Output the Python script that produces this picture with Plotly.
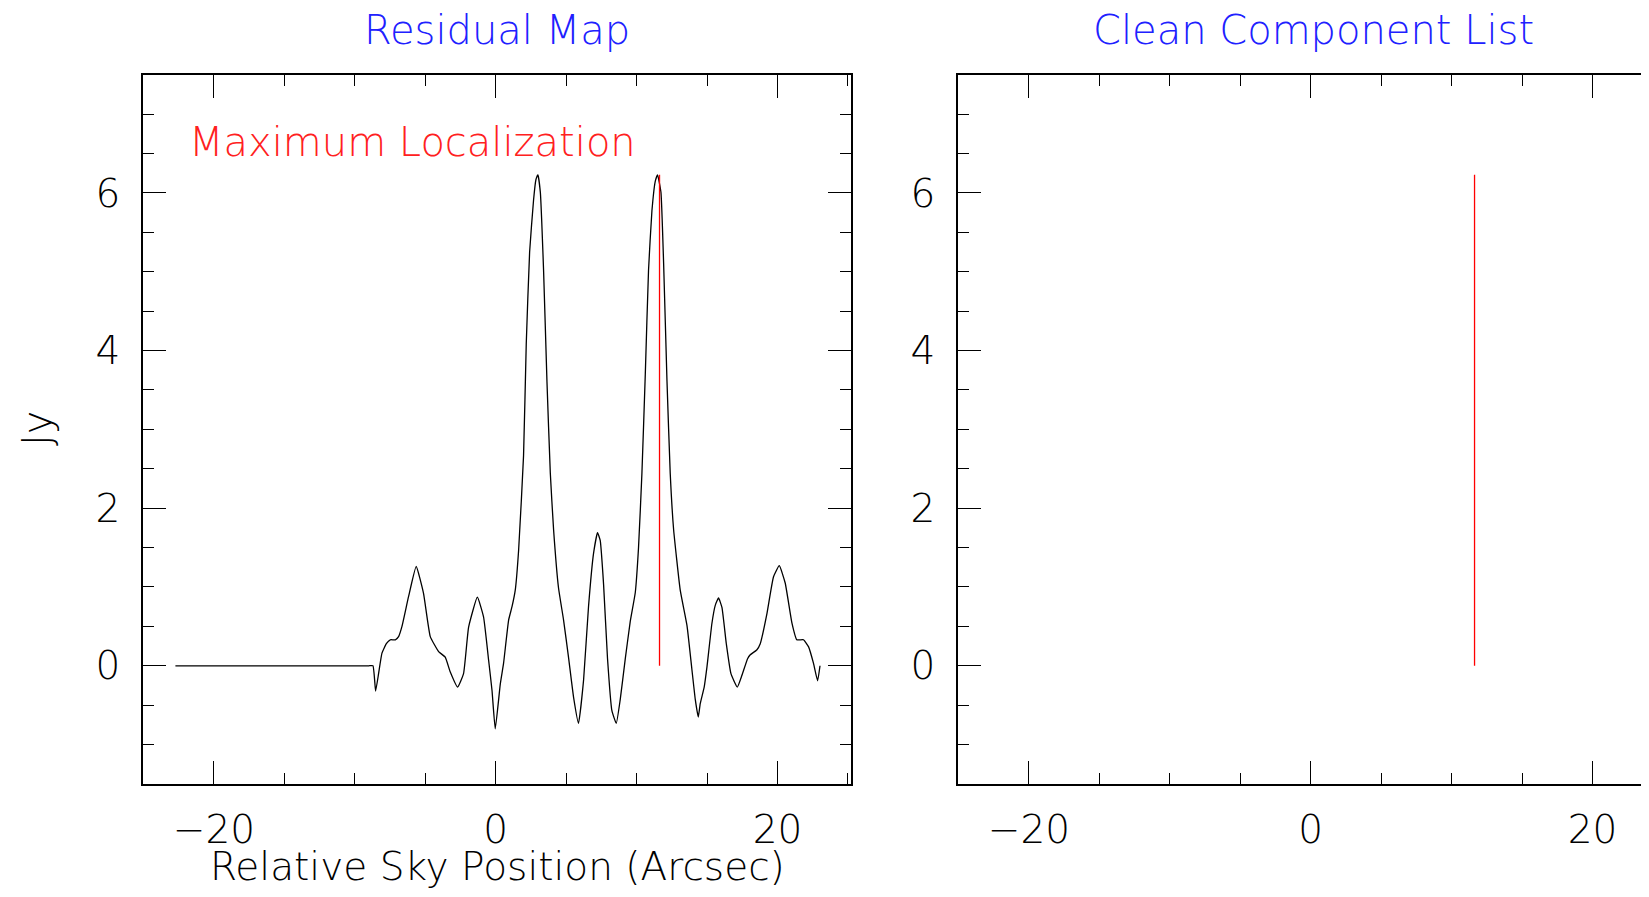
import plotly.graph_objects as go

# ---- data ----
pos_x = [-22.73, -20.0, -15.0, -10.0, -9.0, -8.71, -8.52, -8.31, -8.07, -7.76, -7.48, -7.12, -6.89,
         -6.65, -6.18, -5.64,
         -5.12, -4.64, -4.05, -3.58, -3.22, -2.70, -2.28, -1.92, -1.30, -0.86, -0.50, -0.26,
         -0.03, 0.33, 0.56, 0.92, 1.16, 1.39, 1.63, 1.98, 2.17, 2.41, 2.69, 2.86, 3.00, 3.17,
         3.40, 3.64, 3.88, 4.11, 4.46, 4.82, 5.17, 5.53, 5.88, 6.24, 6.59, 6.95, 7.23, 7.42,
         7.66, 7.94, 8.25, 8.56, 8.84, 9.20, 9.55, 9.91, 10.14, 10.38, 10.62, 10.85, 11.09,
         11.33, 11.49, 11.73, 11.92, 12.16, 12.39, 12.63, 13.10, 13.58, 13.93, 14.17, 14.38,
         14.52, 14.80, 15.00, 15.35, 15.59, 15.82, 16.06, 16.37, 16.70, 17.15, 17.48, 17.88,
         18.07, 18.53, 18.78, 19.25, 19.72, 20.13, 20.55, 21.03, 21.37, 21.85, 22.21, 22.56,
         22.85, 23.02]
residual_jy = [0.00, 0.00, 0.00, 0.00, 0.00, 0.00, -0.32, -0.10, 0.16, 0.28, 0.33, 0.33, 0.37,
               0.50, 0.88, 1.26,
               0.92, 0.37, 0.18, 0.11, -0.08, -0.27, -0.10, 0.49, 0.87, 0.62, 0.07, -0.31,
               -0.80, -0.23, 0.03, 0.58, 0.75, 0.96, 1.47, 2.67, 4.08, 5.25, 5.91, 6.17, 6.23, 6.01,
               5.02, 3.61, 2.44, 1.73, 0.99, 0.58, 0.11, -0.40, -0.73, -0.18, 0.75, 1.43, 1.69, 1.59,
               1.03, 0.09, -0.57, -0.73, -0.43, 0.09, 0.56, 0.93, 1.50, 2.44, 3.70, 5.02, 5.77,
               6.15, 6.23, 6.01, 5.11, 3.61, 2.44, 1.73, 0.96, 0.51, -0.05, -0.43, -0.65,
               -0.48, -0.27, -0.01, 0.54, 0.77, 0.86, 0.74, 0.28, -0.10, -0.27, -0.12, 0.09,
               0.14, 0.20, 0.28, 0.66, 1.13, 1.27, 1.05, 0.54, 0.33, 0.33, 0.24, 0.03,
               -0.19, 0.00]

comp_x = [11.63]
comp_flux = [6.23]

x_ticks = [-20, 0, 20]
y_ticks = [0, 2, 4, 6]

OFF = 8                      # default page margin of the html body
W, H = 1649 - 2 * OFF, 897 - 2 * OFF
FONT = "DejaVu Sans"

def px(v):
    return (v - OFF) / W

def py(v):
    return 1 - (v - OFF) / H

fig = go.Figure()

fig.add_trace(go.Scatter(x=pos_x, y=residual_jy, mode="lines",
                         line=dict(color="black", width=1.3, shape="spline", smoothing=0.4),
                         xaxis="x", yaxis="y", showlegend=False, hoverinfo="skip"))

for cx, cf in zip(comp_x, comp_flux):
    for xa, ya in (("x", "y"), ("x2", "y2")):
        fig.add_trace(go.Scatter(x=[cx, cx], y=[0, cf], mode="lines",
                                 line=dict(color="red", width=1.3),
                                 xaxis=xa, yaxis=ya, showlegend=False))

tickfont = dict(family=FONT, size=39, color="black", weight=200)

common_x = dict(ticks="inside", ticklen=23, tickwidth=1.3, tickcolor="black",
                showline=True, linecolor="black", linewidth=1.6,
                tickvals=x_ticks, showgrid=False, zeroline=False,
                minor=dict(dtick=5, tick0=0, ticks="inside", ticklen=11.5, tickwidth=1.3,
                           tickcolor="black", showgrid=False),
                tickfont=tickfont, ticklabelstandoff=10)
common_y = dict(ticks="inside", ticklen=23, tickwidth=1.3, tickcolor="black",
                showline=True, linecolor="black", linewidth=1.6,
                tickvals=y_ticks, showgrid=False, zeroline=False,
                range=[-1.5, 7.5],
                minor=dict(dtick=0.5, tick0=0, ticks="inside", ticklen=11.5, tickwidth=1.3,
                           tickcolor="black", showgrid=False),
                tickfont=tickfont, ticklabelstandoff=13)

ydom = [py(784), py(74.7)]
right_edge = 1641            # last visible column of the page
x2_max = -25.03 + (right_edge - 958) / 14.09

fig.update_layout(
    width=W, height=H,
    margin=dict(l=0, r=0, t=0, b=0),
    paper_bgcolor="white", plot_bgcolor="white",
    xaxis=dict(domain=[px(143), px(851)], range=[-25.03, 25.22], anchor="y",
               mirror="allticks", **common_x),
    yaxis=dict(domain=ydom, anchor="x", mirror="allticks", **common_y),
    xaxis2=dict(domain=[px(958), 1.0], range=[-25.03, x2_max], anchor="y2",
                mirror="allticks", **common_x),
    yaxis2=dict(domain=ydom, anchor="x2", mirror=False, **common_y),
)

ann_font = dict(family=FONT, size=40, weight=200)
fig.add_annotation(text="Residual Map", xref="paper", yref="paper", x=px(497), y=py(30),
                   xanchor="center", yanchor="middle", showarrow=False,
                   font=dict(color="#2020ff", **ann_font))
fig.add_annotation(text="Clean Component List", xref="paper", yref="paper", x=px(1313), y=py(30),
                   xanchor="center", yanchor="middle", showarrow=False,
                   font=dict(color="#2020ff", **ann_font))
fig.add_annotation(text="Maximum Localization", xref="paper", yref="paper", x=px(187), y=py(142),
                   xanchor="left", yanchor="middle", showarrow=False,
                   font=dict(color="#ff2020", **ann_font))
fig.add_annotation(text="Relative Sky Position (Arcsec)", xref="paper", yref="paper",
                   x=px(497), y=py(866), xanchor="center", yanchor="middle", showarrow=False,
                   font=dict(color="black", family=FONT, size=39, weight=200))
fig.add_annotation(text="Jy", xref="paper", yref="paper", x=px(37), y=py(429),
                   xanchor="center", yanchor="middle", textangle=-90, showarrow=False,
                   font=dict(color="black", **ann_font))

fig.write_html("out.html")
